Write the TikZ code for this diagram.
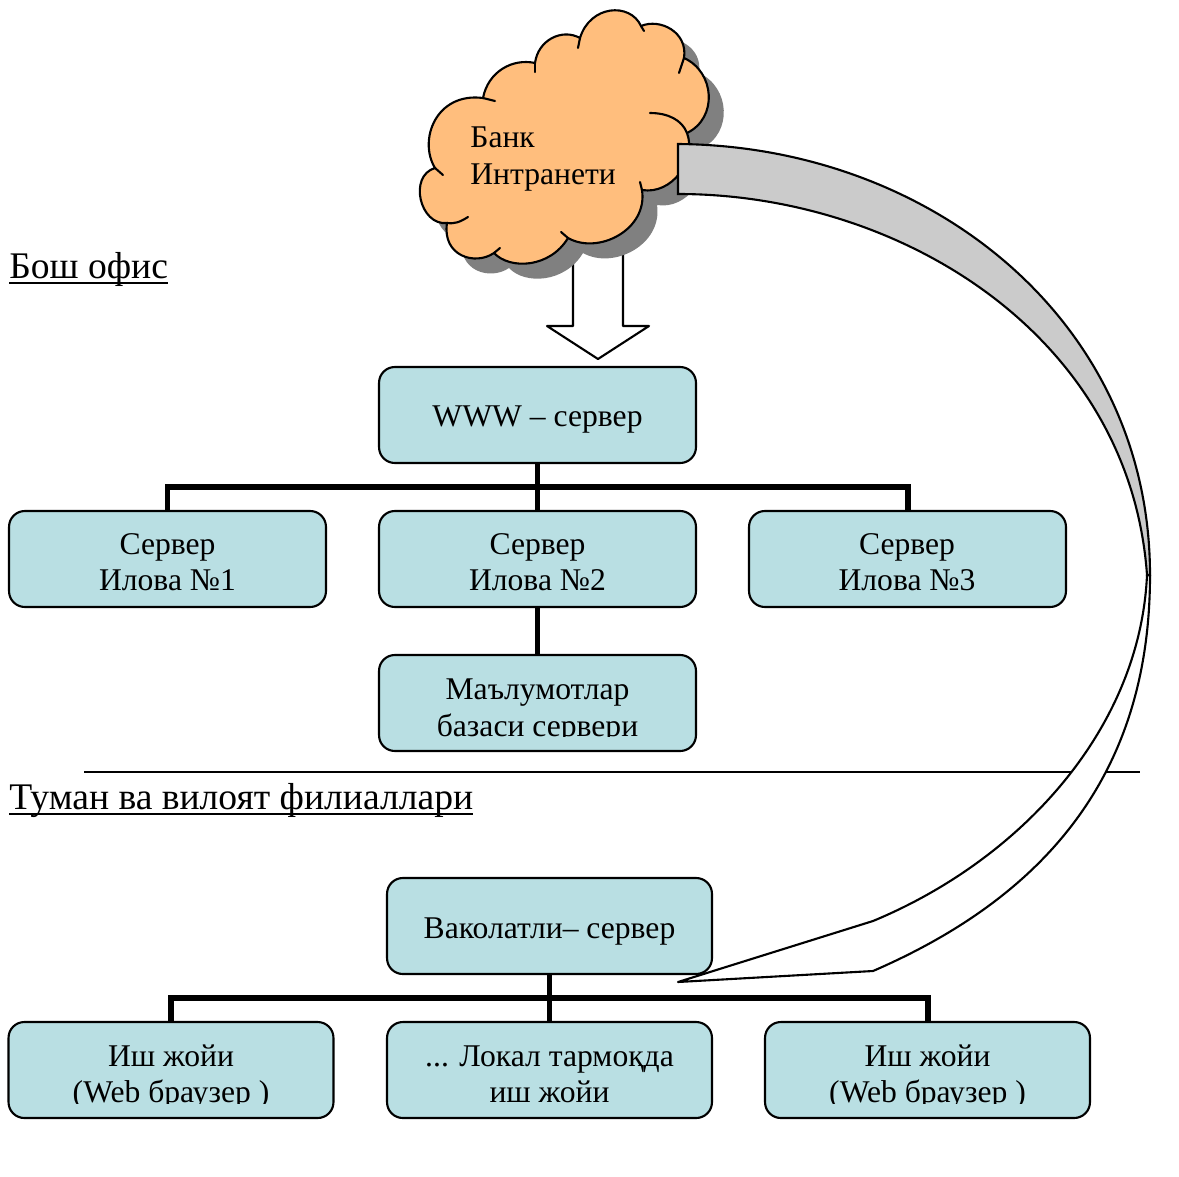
\documentclass[tikz,border=0pt]{standalone}
\usepackage{fontspec}
\setmainfont{Liberation Serif}
\newsavebox{\capbox}
\newcommand{\capline}[1]{\sbox{\capbox}{#1}\rlap{\rule[-3.6pt]{\wd\capbox}{1.4pt}}\usebox{\capbox}}
\definecolor{srvfill}{HTML}{B9DFE3}
\definecolor{cloudfill}{HTML}{FFBE7D}
\definecolor{cloudshadow}{HTML}{808080}
\definecolor{bandfill}{HTML}{CBCBCB}
\tikzset{
  srvbox/.style={draw,line width=1.2pt,fill=srvfill,rounded corners=9pt,
    minimum height=1.92cm,inner sep=0pt},
  srvtext/.style={align=center,font=\fontsize{18}{20.6}\selectfont,inner sep=0pt},
  trunk/.style={line width=3.4pt},
  hook/.style={line width=1.2pt,line cap=round},
  caption/.style={anchor=base west,inner sep=0pt,font=\fontsize{21.4}{24}\selectfont}
}
\newcommand{\cloudoutline}{
  (435,168) .. controls (418,140) and (436,92) .. (483,98)
  .. controls (488,72) and (512,58) .. (535,63)
  .. controls (538,40) and (562,28) .. (580,38)
  .. controls (590,5) and (630,2) .. (641,26)
  .. controls (660,18) and (688,32) .. (684,58)
  .. controls (715,72) and (718,118) .. (687,133)
  .. controls (697,160) and (672,195) .. (642,190)
  .. controls (648,230) and (598,255) .. (568,238)
  .. controls (550,268) and (510,270) .. (494,253)
  .. controls (475,266) and (442,256) .. (447,223)
  .. controls (420,226) and (408,176) .. (435,168) -- cycle}
\begin{document}
\begin{tikzpicture}[x=0.02cm,y=-0.02cm]
\useasboundingbox (0,0) rectangle (1179,1176);
\draw[line width=1.2pt,line join=round,fill=white] (573,240) -- (573,326) -- (547,326) -- (598,359) -- (649,326) -- (623,326) -- (623,240) -- cycle;
\fill[cloudshadow,shift={(15,15)}] \cloudoutline;
\draw[line width=1.2pt,fill=cloudfill] \cloudoutline;
\draw[hook] (435,168) -- (443,175);
\draw[hook] (483,98) -- (495,101);
\draw[hook] (535,63) -- (535,72);
\draw[hook] (580,38) -- (578,48);
\draw[hook] (641,26) -- (644,31);
\draw[hook] (684,58) -- (679,73);
\draw[hook] (650,113) .. controls (668,113) and (682,120) .. (687,133);
\draw[hook] (640,182) -- (642,190);
\draw[hook] (561,232) -- (568,238);
\draw[hook] (500,248) -- (494,253);
\draw[hook] (468,217) .. controls (460,222) and (455,224) .. (447,223);
\node[anchor=base west,align=left,inner sep=0pt,font=\fontsize{18}{20.6}\selectfont] (bank) at (470,184) {Банк\\Интранети};
\node[caption] (head) at (9,278) {\capline{Бош офис}};
\node[caption] (branch) at (9,809) {\capline{Туман ва вилоят филиаллари}};
\coordinate (ruleL) at (84,772);
\coordinate (ruleR) at (1140,772);
\draw[line width=1.2pt] (ruleL) -- (ruleR);
\node[srvbox,minimum width=6.34cm] (www) at (537.5,415) {};
\node[srvbox,minimum width=6.34cm] (srvA) at (167.5,559) {};
\node[srvbox,minimum width=6.34cm] (srvB) at (537.5,559) {};
\node[srvbox,minimum width=6.34cm] (srvC) at (907.5,559) {};
\node[srvbox,minimum width=6.34cm] (base) at (537.5,703) {};
\node[srvbox,minimum width=6.5cm] (auth) at (549.5,926) {};
\node[srvbox,minimum width=6.5cm] (desk) at (171,1070) {};
\node[srvbox,minimum width=6.5cm] (lan) at (549.5,1070) {};
\node[srvbox,minimum width=6.5cm] (deskB) at (927.5,1070) {};
\coordinate (hubA) at (537.5,487);
\coordinate (hubB) at (549.5,998);
\draw[trunk] (www.south) -- (srvB.north);
\draw[trunk] (srvB.south) -- (base.north);
\draw[trunk] (auth.south) -- (lan.north);
\draw[trunk] (srvA.north) |- (hubA) -| (srvC.north);
\draw[trunk] (desk.north) |- (hubB) -| (deskB.north);
\node[srvtext] (wwwtext) at (537.5,420) {WWW – сервер};
\node[srvtext] (srvAtext) at (167.5,562.5) {Сервер\\Илова №1};
\node[srvtext] (srvBtext) at (537.5,562.5) {Сервер\\Илова №2};
\node[srvtext] (srvCtext) at (907,562.5) {Сервер\\Илова №3};
\node[srvtext] (basetext) at (537.5,711) {Маълумотлар\\базаси сервери};
\fill[srvfill] (400,737) rectangle (680,749);
\node[srvtext] (authtext) at (549.5,931) {Ваколатли– сервер};
\node[srvtext] (desktext) at (171,1077) {Иш жойи\\(Web браузер )};
\node[srvtext] (lantext) at (549.5,1074) {... Локал тармоқда\\иш жойи};
\node[srvtext] (deskBtext) at (927.5,1077) {Иш жойи\\(Web браузер )};
\fill[srvfill] (30,1104) rectangle (310,1116);
\fill[srvfill] (786,1104) rectangle (1070,1116);
\path (678,144) coordinate (bandA) (678,194) coordinate (bandB) (1150,575) coordinate (bandC) (873,921) coordinate (bandD) (873,971) coordinate (bandE) (678,982) coordinate (bandTip);
\draw[line width=1.2pt,line join=round,fill=white] (bandC) .. controls (1150,760) and (1060,890) .. (bandE) -- (bandTip) -- (bandD) .. controls (1020,860) and (1140,730) .. (1147,575) -- cycle;
\draw[line width=1.2pt,fill=bandfill] (bandA) .. controls (930,146) and (1150,320) .. (bandC) -- (1147,575) .. controls (1130,335) and (900,194) .. (bandB) -- cycle;
\end{tikzpicture}
\end{document}
